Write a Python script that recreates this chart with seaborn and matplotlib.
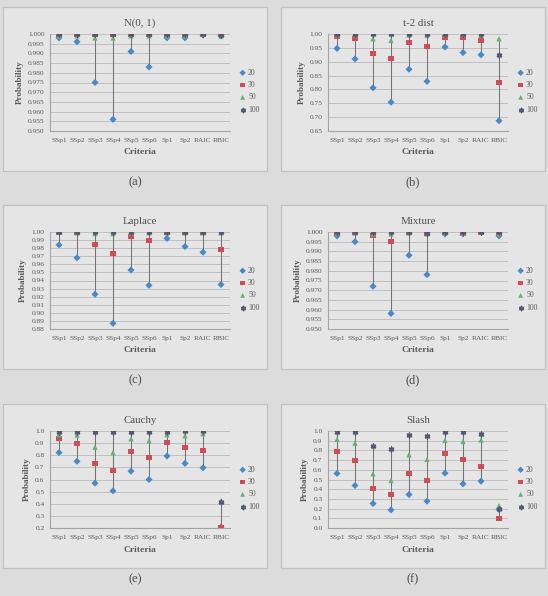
import numpy as np
import pandas as pd
import matplotlib
matplotlib.use("Agg")
import matplotlib.pyplot as plt
from matplotlib.patches import Rectangle
import seaborn as sns


# Data
criteria = ["SSp1", "SSp2", "SSp3", "SSp4", "SSp5", "SSp6", "Sp1", "Sp2", "RAIC", "RBIC"]
sample_sizes = ["20", "30", "50", "100"]

normal_20 = [0.998, 0.996, 0.975, 0.956, 0.991, 0.983, 0.998, 0.998, 0.9995, 0.999]
normal_30 = [0.9995, 1.000, 1.000, 0.9995, 0.9995, 0.9995, 1.000, 0.9995, 1.000, 0.9995]
normal_50 = [0.999, 0.999, 0.998, 0.998, 0.999, 0.999, 0.999, 0.999, 1.000, 0.999]
normal_100 = [1.000, 1.000, 1.000, 1.000, 1.000, 1.000, 1.000, 1.000, 1.000, 0.9995]

t2_20 = [0.948, 0.910, 0.806, 0.754, 0.873, 0.829, 0.953, 0.933, 0.925, 0.687]
t2_30 = [0.990, 0.983, 0.928, 0.911, 0.970, 0.955, 0.988, 0.986, 0.978, 0.825]
t2_50 = [0.996, 0.997, 0.983, 0.977, 0.996, 0.995, 0.998, 0.998, 0.995, 0.983]
t2_100 = [1.000, 1.000, 1.000, 1.000, 1.000, 1.000, 1.000, 1.000, 1.000, 0.925]

laplace_20 = [0.984, 0.968, 0.923, 0.887, 0.953, 0.934, 0.992, 0.982, 0.975, 0.935]
laplace_30 = [0.999, 0.999, 0.984, 0.974, 0.995, 0.989, 0.999, 0.999, 0.999, 0.978]
laplace_50 = [1.000, 0.999, 0.998, 0.998, 0.999, 0.999, 0.999, 0.999, 0.999, 0.999]
laplace_100 = [1.000, 1.000, 1.000, 1.000, 1.000, 1.000, 1.000, 1.000, 1.000, 1.000]

mixture_20 = [0.998, 0.995, 0.972, 0.958, 0.988, 0.978, 0.999, 0.999, 1.000, 0.998]
mixture_30 = [0.999, 1.000, 0.998, 0.995, 1.000, 0.999, 1.000, 0.999, 1.000, 0.999]
mixture_50 = [0.9995, 0.9995, 0.999, 0.999, 0.9995, 0.999, 0.9995, 0.9995, 1.000, 0.999]
mixture_100 = [1.000, 1.000, 1.000, 1.000, 1.000, 0.9995, 1.000, 1.000, 1.000, 1.000]

cauchy_20 = [0.822, 0.750, 0.570, 0.506, 0.669, 0.600, 0.794, 0.733, 0.697, 0.208]
cauchy_30 = [0.936, 0.897, 0.728, 0.672, 0.833, 0.778, 0.908, 0.867, 0.836, 0.206]
cauchy_50 = [0.970, 0.967, 0.867, 0.822, 0.936, 0.920, 0.970, 0.961, 0.978, 0.425]
cauchy_100 = [0.995, 0.995, 0.994, 0.994, 0.995, 0.994, 0.995, 1.000, 0.997, 0.417]

slash_20 = [0.562, 0.438, 0.252, 0.186, 0.345, 0.276, 0.566, 0.455, 0.483, 0.193]
slash_30 = [0.793, 0.693, 0.407, 0.341, 0.562, 0.486, 0.772, 0.710, 0.638, 0.100]
slash_50 = [0.914, 0.876, 0.559, 0.490, 0.755, 0.707, 0.903, 0.893, 0.907, 0.230]
slash_100 = [0.993, 0.990, 0.841, 0.810, 0.955, 0.945, 0.993, 0.993, 0.969, 0.200]

normal_ticks = [0.950, 0.955, 0.960, 0.965, 0.970, 0.975, 0.980, 0.985, 0.990, 0.995, 1.000]
t2_ticks = [0.65, 0.70, 0.75, 0.80, 0.85, 0.90, 0.95, 1.00]
laplace_ticks = [0.88, 0.89, 0.90, 0.91, 0.92, 0.93, 0.94, 0.95, 0.96, 0.97, 0.98, 0.99, 1.00]
mixture_ticks = normal_ticks
cauchy_ticks = [0.2, 0.3, 0.4, 0.5, 0.6, 0.7, 0.8, 0.9, 1.0]
slash_ticks = [0.0, 0.1, 0.2, 0.3, 0.4, 0.5, 0.6, 0.7, 0.8, 0.9, 1.0]


# Styling
W, H = 548, 596
BOX_W, BOX_H = 264, 164
FIG_BG = "#dcdcdc"
PANEL_BG = "#e5e5e5"
BORDER = "#c2c2c2"
TEXT = "#5a5a5a"
COLORS = {"20": "#4a88c6", "30": "#cf4d5a", "50": "#6aae78", "100": "#55566f"}
MARKERS = {"20": "D", "30": "s", "50": "^", "100": (6, 2, 0)}
SIZES = {"20": 13, "30": 13, "50": 15, "100": 11}
SERIF = ["Liberation Serif", "DejaVu Serif"]


def px_rect(left, top, width, height):
    return [left / W, 1 - (top + height) / H, width / W, height / H]


def draw_panel(fig, box_left, box_top, title, tag, series, ticks, fmt):
    # panel frame
    fig.add_artist(Rectangle((box_left / W, 1 - (box_top + BOX_H) / H), BOX_W / W, BOX_H / H,
                             transform=fig.transFigure, facecolor=PANEL_BG,
                             edgecolor=BORDER, linewidth=0.9, zorder=-1))
    fig.text((box_left + BOX_W / 2) / W, 1 - (box_top + BOX_H + 11) / H, tag,
             ha="center", va="center", fontsize=9, color="#4a4a4a")

    ax = fig.add_axes(px_rect(box_left + 47, box_top + 27, 180, 97))
    ax.set_facecolor("none")

    x = np.arange(len(criteria))
    values = np.array(series)
    ax.vlines(x, values.min(axis=0), values.max(axis=0), colors="#747474",
              linewidth=0.75, zorder=2)

    for size, vals in zip(sample_sizes, series):
        df = pd.DataFrame({"pos": x, "prob": vals})
        kws = dict(linewidth=1.1) if size == "100" else dict(edgecolor="none", linewidth=0)
        sns.scatterplot(data=df, x="pos", y="prob", marker=MARKERS[size], color=COLORS[size],
                        s=SIZES[size], label=size, ax=ax, zorder=3, **kws)

    ax.set_xlim(-0.5, len(criteria) - 0.5)
    ax.set_ylim(ticks[0], ticks[-1])
    ax.set_xticks(x)
    ax.set_xticklabels(criteria)
    ax.set_yticks(ticks)
    ax.set_yticklabels([fmt.format(t) for t in ticks])
    ax.tick_params(axis="x", length=0, labelsize=5.3, labelcolor=TEXT, pad=5)
    ax.tick_params(axis="y", length=2, width=0.6, color="#a0a0a0", labelsize=5.3,
                   labelcolor=TEXT, pad=2)

    ax.yaxis.grid(True, color="#bababa", linewidth=0.6)
    ax.xaxis.grid(False)
    ax.set_axisbelow(True)
    for side in ["top", "right"]:
        ax.spines[side].set_visible(False)
    for side in ["left", "bottom"]:
        ax.spines[side].set_color("#a3a3a3")
        ax.spines[side].set_linewidth(0.8)

    ax.set_title(title, fontsize=7.8, color="#4e4e4e", pad=6)
    ax.set_xlabel("Criteria", fontsize=6.8, fontweight="bold", color=TEXT, labelpad=4)
    ax.set_ylabel("Probability", fontsize=6.6, fontweight="bold", color=TEXT, labelpad=3)

    leg = ax.legend(loc="center left", bbox_to_anchor=(1.04, 0.41), frameon=False,
                    fontsize=5.6, handlelength=0.6, handletextpad=0.4, labelspacing=0.55,
                    markerscale=0.9, borderaxespad=0)
    for t in leg.get_texts():
        t.set_color(TEXT)
    return ax


def main():
    sns.set_style("white")
    plt.rcParams["font.family"] = SERIF

    fig = plt.figure(figsize=(W / 100, H / 100), dpi=100)
    fig.patch.set_facecolor(FIG_BG)

    panels = [
        (3, 7, "N(0, 1)", "(a)", [normal_20, normal_30, normal_50, normal_100], normal_ticks, "{:.3f}"),
        (281, 7, "t-2 dist", "(b)", [t2_20, t2_30, t2_50, t2_100], t2_ticks, "{:.2f}"),
        (3, 205, "Laplace", "(c)", [laplace_20, laplace_30, laplace_50, laplace_100], laplace_ticks, "{:.2f}"),
        (281, 205, "Mixture", "(d)", [mixture_20, mixture_30, mixture_50, mixture_100], mixture_ticks, "{:.3f}"),
        (3, 404, "Cauchy", "(e)", [cauchy_20, cauchy_30, cauchy_50, cauchy_100], cauchy_ticks, "{:.1f}"),
        (281, 404, "Slash", "(f)", [slash_20, slash_30, slash_50, slash_100], slash_ticks, "{:.1f}"),
    ]
    for args in panels:
        draw_panel(fig, *args)

    fig.savefig("out.png", dpi=100, facecolor=fig.get_facecolor())


if __name__ == "__main__":
    main()
